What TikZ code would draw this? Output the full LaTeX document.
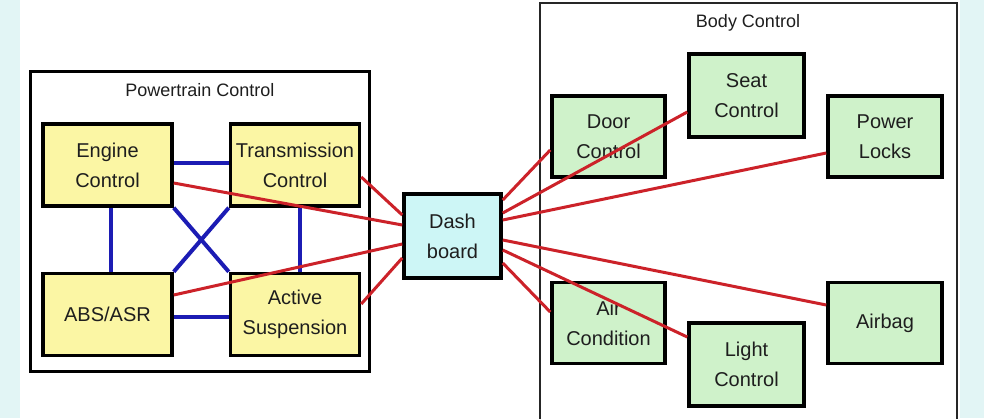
\documentclass[tikz,border=0pt]{standalone}
\usepackage{fontspec}
\setmainfont{Liberation Sans}
\usetikzlibrary{positioning,calc}
\definecolor{sidecyan}{HTML}{E2F5F5}
\definecolor{ptyellow}{HTML}{FBF6A4}
\definecolor{bcgreen}{HTML}{CFF2CA}
\definecolor{dashcyan}{HTML}{CDF6F6}
\definecolor{wireblue}{HTML}{1C1CB4}
\definecolor{wirered}{HTML}{CC2229}
\definecolor{inktext}{HTML}{1E1E1E}

\begin{document}
\begin{tikzpicture}[x=1pt, y=-1pt,
        unit/.style={draw=black, line width=3.5pt, text=inktext, align=center,
                     font=\fontsize{20}{30}\selectfont, inner sep=0pt},
        ptunit/.style={unit, fill=ptyellow, minimum width=129pt, minimum height=82pt},
        bcunit/.style={unit, fill=bcgreen, minimum width=113pt, minimum height=81pt},
        group/.style={draw=#1, inner sep=0pt},
        grouptitle/.style={text=inktext, font=\fontsize{18}{20}\selectfont},
        bus/.style={wireblue, line width=4pt},
        wire/.style={wirered, line width=3pt}]
                \useasboundingbox (0,0) rectangle (984,418);
                \clip (0,0) rectangle (984,418);
                \fill[sidecyan] (0,0) rectangle (984,418);
                \fill[white] (20,0) rectangle (960,418);

                % powertrain side
                \node[group=black, line width=3pt, minimum width=339pt, minimum height=300pt] (ptframe) at (199.5,221) {};
                \node[grouptitle] (pttitle) at (200,90) {Powertrain Control};
                \node[ptunit] (engine) at (107.5,165) {Engine\\Control};
                \node[ptunit, right=55pt of engine] (trans) {Transmission\\Control};
                \node[ptunit, below=64pt of engine] (abs) {ABS/ASR};
                \node[ptunit, right=55pt of abs] (susp) {Active\\Suspension};

                \node[unit, fill=dashcyan, minimum width=97pt, minimum height=84pt] (dash) at (452.5,236) {Dash\\board};

                % body side
                \node[group=black!85, line width=2.5pt, minimum width=417pt, minimum height=422pt] (bcframe) at (748.5,214) {};
                \node[grouptitle] (bctitle) at (748,23) {Body Control};
                \node[bcunit] (door) at (608.5,136.5) {Door\\Control};
                \node[bcunit, minimum width=115pt, minimum height=83pt] (seat) at (746.5,95.5) {Seat\\Control};
                \node[bcunit, minimum width=114pt] (locks) at (885,136.5) {Power\\Locks};
                \node[bcunit] (air) at (608.5,323) {Air\\Condition};
                \node[bcunit, minimum width=115pt, minimum height=83pt] (light) at (746.5,364.5) {Light\\Control};
                \node[bcunit, minimum width=114pt] (airbag) at (885,323) {Airbag};

                \draw[bus] ($(engine.east)+(0,-2)$) -- ($(trans.west)+(0,-2)$);
                \draw[bus] ($(abs.east)+(0,2)$) -- ($(susp.west)+(0,2)$);
                \draw[bus] ($(engine.south)+(3.5,0)$) -- ($(abs.north)+(3.5,0)$);
                \draw[bus] ($(trans.south)+(5,0)$) -- ($(susp.north)+(5,0)$);
                \draw[bus] (engine.south east) -- (susp.north west);
                \draw[bus] (trans.south west) -- (abs.north east);

                \draw[wire] ($(trans.east)+(0,12)$) -- ($(dash.west)+(0,-21)$);
                \draw[wire] ($(engine.east)+(0,18)$) -- ($(dash.west)+(0,-11)$);
                \draw[wire] ($(abs.east)+(0,-19.5)$) -- ($(dash.west)+(0,8)$);
                \draw[wire] ($(susp.east)+(0,-10.5)$) -- ($(dash.west)+(0,22)$);

                \draw[wire] ($(dash.east)+(0,-36)$) -- ($(door.west)+(0,13.5)$);
                \draw[wire] ($(dash.east)+(0,-23)$) -- ($(seat.west)+(0,16.5)$);
                \draw[wire] ($(dash.east)+(0,-16)$) -- ($(locks.west)+(0,16.5)$);
                \draw[wire] ($(dash.east)+(0,4)$) -- ($(airbag.west)+(0,-18)$);
                \draw[wire] ($(dash.east)+(0,14)$) -- ($(light.west)+(0,-27.5)$);
                \draw[wire] ($(dash.east)+(0,27)$) -- ($(air.west)+(0,-11)$);
\end{tikzpicture}
\end{document}
